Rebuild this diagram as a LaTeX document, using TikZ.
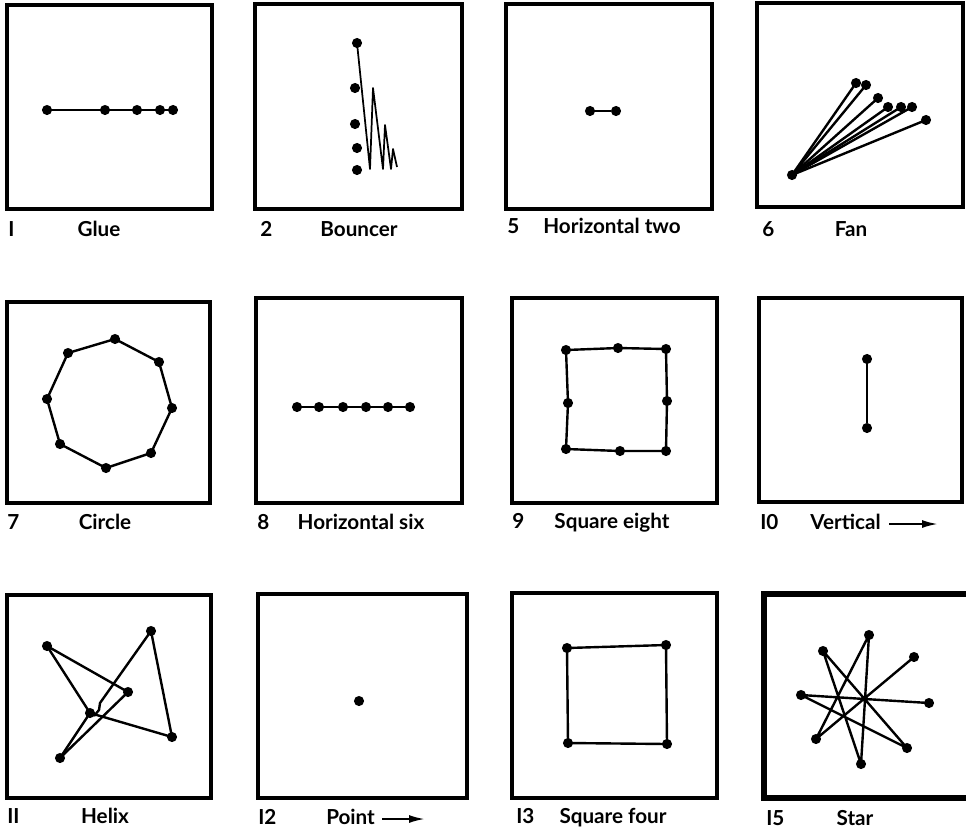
\documentclass[tikz,border=0pt]{standalone}
\usepackage{fontspec}
\setmainfont{Lato}
\usetikzlibrary{arrows.meta}
\begin{document}
\begin{tikzpicture}[x=0.75pt,y=-0.75pt,
  boxframe/.style={draw,line width=2.6pt},
  dot/.style={circle,fill,inner sep=0pt,minimum size=7.6pt},
  joinline/.style={line width=1.8pt,line join=round},
  thinjoin/.style={line width=1.3pt,line join=round},
  numtxt/.style={anchor=base west,inner sep=0pt,font=\fontsize{15.5}{18}\selectfont\bfseries},
  captxt/.style={anchor=base,inner sep=0pt,font=\fontsize{15.5}{18}\selectfont\bfseries},
  captxtw/.style={anchor=base west,inner sep=0pt,font=\fontsize{15.5}{18}\selectfont\bfseries},
  pointerline/.style={line width=1.6pt,-{Latex[length=12pt,width=6pt]}}]
\useasboundingbox (0,0) rectangle (966,833);

% ---------- Row 1 ----------
% 1 Glue
\draw[boxframe] (7,5) rectangle (212,209);
\node[dot] (g1) at (47,110) {};
\node[dot] (g2) at (105,110) {};
\node[dot] (g3) at (137,110) {};
\node[dot] (g4) at (160,110) {};
\node[dot] (g5) at (173,110) {};
\draw[joinline] (g1) -- (g2) -- (g3) -- (g4) -- (g5);
\node[numtxt] (n1) at (8,236) {I};
\node[captxt] (t1) at (99,236) {Glue};

% 2 Bouncer
\draw[boxframe] (255,4) rectangle (462,209);
\node[dot] (b1) at (357,43) {};
\node[dot] (b2) at (355,88) {};
\node[dot] (b3) at (355,124) {};
\node[dot] (b4) at (357,148) {};
\node[dot] (b5) at (357,170) {};
\coordinate (bb1) at (370,169);
\coordinate (bb2) at (373,88);
\coordinate (bb3) at (383,169);
\coordinate (bb4) at (385,125);
\coordinate (bb5) at (391,169);
\coordinate (bb6) at (393,149);
\coordinate (bb7) at (397,167);
\draw[thinjoin] (b1.center) -- (bb1) -- (bb2) -- (bb3) -- (bb4) -- (bb5) -- (bb6) -- (bb7);
\node[numtxt] (n2) at (260,236) {2};
\node[captxt] (t2) at (359,236) {Bouncer};

% 5 Horizontal two
\draw[boxframe] (506,4) rectangle (712,209);
\node[dot] (h1) at (590,111) {};
\node[dot] (h2) at (616,111) {};
\draw[joinline] (h1) -- (h2);
\node[numtxt] (n5) at (507,233) {5};
\node[captxt] (t5) at (612,233) {Horizontal two};

% 6 Fan
\draw[boxframe] (757,3) rectangle (963,207);
\node[dot] (f0) at (792,175) {};
\node[dot] (f1) at (856,83) {};
\node[dot] (f2) at (866,85) {};
\node[dot] (f3) at (878,98) {};
\node[dot] (f4) at (888,107) {};
\node[dot] (f5) at (901,107) {};
\node[dot] (f6) at (912,107) {};
\node[dot] (f7) at (926,120) {};
\foreach \k in {1,...,7} \draw[joinline] (f0.center) -- (f\k.center);
\node[numtxt] (n6) at (762,236) {6};
\node[captxt] (t6) at (851,236) {Fan};

% ---------- Row 2 ----------
% 7 Circle
\draw[boxframe] (7,302) rectangle (210,503);
\node[dot] (c1) at (115,339) {};
\node[dot] (c2) at (159,362) {};
\node[dot] (c3) at (172,408) {};
\node[dot] (c4) at (151,453) {};
\node[dot] (c5) at (106,468) {};
\node[dot] (c6) at (60,444) {};
\node[dot] (c7) at (47,399) {};
\node[dot] (c8) at (68,353) {};
\draw[joinline] (c1.center) -- (c2.center) -- (c3.center) -- (c4.center) -- (c5.center) -- (c6.center) -- (c7.center) -- (c8.center) -- cycle;
\node[numtxt] (n7) at (7,529) {7};
\node[captxt] (t7) at (105,529) {Circle};

% 8 Horizontal six
\draw[boxframe] (256,298) rectangle (462,503);
\node[dot] (s1) at (297,407) {};
\node[dot] (s2) at (319,407) {};
\node[dot] (s3) at (343,407) {};
\node[dot] (s4) at (366,407) {};
\node[dot] (s5) at (388,407) {};
\node[dot] (s6) at (410,407) {};
\draw[joinline] (s1) -- (s2) -- (s3) -- (s4) -- (s5) -- (s6);
\node[numtxt] (n8) at (257,529) {8};
\node[captxt] (t8) at (361,529) {Horizontal six};

% 9 Square eight
\draw[boxframe] (512,298) rectangle (717,503);
\node[dot] (q1) at (566,350) {};
\node[dot] (q2) at (618,348) {};
\node[dot] (q3) at (666,349) {};
\node[dot] (q4) at (667,401) {};
\node[dot] (q5) at (666,451) {};
\node[dot] (q6) at (620,451) {};
\node[dot] (q7) at (566,449) {};
\node[dot] (q8) at (568,403) {};
\draw[joinline] (q1.center) -- (q2.center) -- (q3.center) -- (q4.center) -- (q5.center) -- (q6.center) -- (q7.center) -- (q8.center) -- cycle;
\node[numtxt] (n9) at (512,528) {9};
\node[captxt] (t9) at (612,528) {Square eight};

% 10 Vertical
\draw[boxframe] (759,298) rectangle (962,502);
\node[dot] (v1) at (867,359) {};
\node[dot] (v2) at (867,428) {};
\draw[joinline] (v1) -- (v2);
\node[numtxt] (n10) at (760,529) {I0};
\node[captxtw] (t10) at (810,529) {Vertical};
\coordinate (a10s) at (889,524);
\coordinate (a10) at (938,524);
\draw[pointerline] (a10s) -- (a10);

% ---------- Row 3 ----------
% 11 Helix
\draw[boxframe] (7,595) rectangle (211,798);
\node[dot] (xA) at (47,646) {};
\node[dot] (xB) at (151,631) {};
\node[dot] (xC) at (128,692) {};
\node[dot] (xD) at (90,713) {};
\node[dot] (xE) at (172,737) {};
\node[dot] (xF) at (60,758) {};
\coordinate (xh1) at (100,703);
\coordinate (xh2) at (99,710);
\coordinate (xh3) at (94,716);
\draw[joinline] (xA.center) -- (xC.center) -- (xF.center);
\draw[joinline] (xA.center) -- (xD.center) -- (xE.center);
\draw[joinline] (xE.center) -- (xB.center) -- (xh1) -- (xh2) -- (xh3);
\draw[joinline] (xD.center) -- (xF.center);
\node[numtxt] (n11) at (7,823) {II};
\node[captxt] (t11) at (105,823) {Helix};

% 12 Point
\draw[boxframe] (258,594) rectangle (467,798);
\node[dot] (p1) at (359,701) {};
\node[numtxt] (n12) at (258,824) {I2};
\node[captxtw] (t12) at (326,824) {Point};
\coordinate (a12s) at (382,819);
\coordinate (a12) at (425,819);
\draw[pointerline] (a12s) -- (a12);

% 13 Square four
\draw[boxframe] (512,593) rectangle (717,798);
\node[dot] (r1) at (567,648) {};
\node[dot] (r2) at (666,645) {};
\node[dot] (r3) at (667,744) {};
\node[dot] (r4) at (568,743) {};
\draw[joinline] (r1.center) -- (r2.center) -- (r3.center) -- (r4.center) -- cycle;
\node[numtxt] (n13) at (516,823) {I3};
\node[captxt] (t13) at (613,823) {Square four};

% 15 Star
\draw[line width=4.4pt] (764,594) rectangle (975,798);
\node[dot] (k1) at (869,635) {};
\node[dot] (k2) at (823,651) {};
\node[dot] (k3) at (914,657) {};
\node[dot] (k4) at (801,695) {};
\node[dot] (k5) at (929,703) {};
\node[dot] (k6) at (816,739) {};
\node[dot] (k7) at (907,748) {};
\node[dot] (k8) at (861,764) {};
\draw[joinline] (k3.center) -- (k6.center) -- (k1.center) -- (k8.center) -- (k2.center) -- (k7.center) -- (k4.center) -- (k5.center);
\node[numtxt] (n15) at (766,825) {I5};
\node[captxt] (t15) at (855,825) {Star};
\end{tikzpicture}
\end{document}
